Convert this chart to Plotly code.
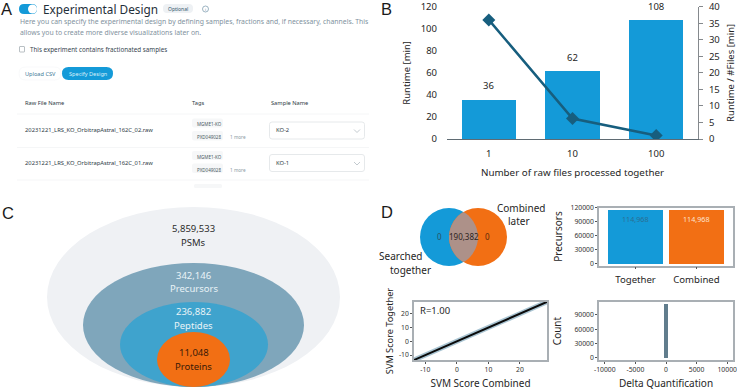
import plotly.graph_objects as go

W, H = 737, 390
FONT = "Noto Sans"
BLUE = "#149ad8"
ORANGE = "#f26f14"
TEAL = "#175e7e"
SPINE = "#a9afb4"
INK = "#262626"

# Panel B
files = ["1", "10", "100"]
runtime = [36, 62, 108]
runtime_per_file = [36, 6.2, 1.08]
# Panel D, bars
methods = ["Together", "Combined"]
precursors = [114968, 114968]
precursor_labels = ["114,968", "114,968"]
# Panel D, scatter
svm_combined = [-13.6, -10, -5, 0, 5, 10, 15, 20, 25, 28.6]
svm_together = [-13.6, -10, -5, 0, 5, 10, 15, 20, 25, 28.6]
svm_ticks = [-10, 0, 10, 20]
# Panel D, histogram
delta_bin = [0]
delta_count = [113000]
delta_ticks = [-10000, -5000, 0, 5000, 10000]
# Panel C
nested_counts = ["5,859,533", "342,146", "236,882", "11,048"]
nested_names = ["PSMs", "Precursors", "Peptides", "Proteins"]
# Panel A
raw_files = ["20231221_LRS_KO_OrbitrapAstral_162C_02.raw", "20231221_LRS_KO_OrbitrapAstral_162C_01.raw"]
sample_names = ["KO-2", "KO-1"]


def px(x):
    return x / W


def py(y):
    return 1 - y / H


annotations, shapes = [], []


def text(x, y, s, size=8, color=INK, anchor="left", family=FONT):
    annotations.append(dict(x=px(x), y=py(y), xref="paper", yref="paper", text=s, showarrow=False,
                            xanchor=anchor, yanchor="middle", align="center",
                            font=dict(family=family, size=size, color=color)))


def ellipse(x0, y0, x1, y1, fill, line=None, lw=0):
    shapes.append(dict(type="circle", xref="paper", yref="paper", x0=px(x0), x1=px(x1), y0=py(y1), y1=py(y0),
                       fillcolor=fill, line=dict(width=lw, color=line or fill)))


def rrect(x0, y0, x1, y1, r, fill, line=None, lw=0):
    X0, X1, Y0, Y1 = px(x0), px(x1), py(y0), py(y1)
    rx, ry = r / W, r / H
    path = (f"M {X0+rx} {Y0} L {X1-rx} {Y0} Q {X1} {Y0} {X1} {Y0-ry} L {X1} {Y1+ry} Q {X1} {Y1} {X1-rx} {Y1} "
            f"L {X0+rx} {Y1} Q {X0} {Y1} {X0} {Y1+ry} L {X0} {Y0-ry} Q {X0} {Y0} {X0+rx} {Y0} Z")
    shapes.append(dict(type="path", xref="paper", yref="paper", path=path, fillcolor=fill,
                       line=dict(width=lw, color=line or fill)))


def hline(x0, x1, y, color, width=1):
    shapes.append(dict(type="line", xref="paper", yref="paper", x0=px(x0), x1=px(x1), y0=py(y), y1=py(y),
                       line=dict(width=width, color=color)))


def chevron(x, y):
    shapes.append(dict(type="path", xref="paper", yref="paper",
                       path=f"M {px(x-3)} {py(y-1.5)} L {px(x)} {py(y+1.5)} L {px(x+3)} {py(y-1.5)}",
                       line=dict(width=0.8, color="#b4bdc3")))


# ---------- panel letters
LETTER = "Liberation Sans"
text(-1, 9.3, "A", 16.5, "#1a1a1a", family=LETTER)
text(379, 9.3, "B", 16.5, "#1a1a1a", family=LETTER)
text(0, 213, "C", 16.5, "#1a1a1a", family=LETTER)
text(379, 212, "D", 16.5, "#1a1a1a", family=LETTER)

# ---------- panel A (UI screenshot)
rrect(19, 4, 37, 14, 5, BLUE)
ellipse(28, 4.5, 37, 13.5, "#ffffff")
text(41, 8.5, "Experimental Design", 11.8, "#1f2f3a")
rrect(163, 4, 193, 13, 4, "#eef1f4")
text(178, 8.5, "Optional", 5, "#31566b", "center")
ellipse(202.5, 6, 208.5, 12, "#ffffff", "#5a8198", 0.6)
text(205.5, 9, "i", 4, "#5a8198", "center")
text(18, 21.5, "Here you can specify the experimental design by defining samples, fractions and, if necessary, channels. This", 6.85, "#7f929e")
text(18, 32, "allows you to create more diverse visualizations later on.", 6.85, "#7f929e")
rrect(19.5, 46.5, 24.5, 52, 0.5, "#ffffff", "#8a959c", 0.6)
text(28, 49.5, "This experiment contains fractionated samples", 6.25, "#36454f")
rrect(19, 67, 61, 80, 6.5, "#ffffff", "#f0f3f5", 0.5)
text(40.5, 73.5, "Upload CSV", 5.6, "#417a98", "center")
rrect(62, 67, 113, 80, 6.5, BLUE)
text(87.5, 73.5, "Specify Design", 5.6, "#d8f0fa", "center")
text(23, 103, "Raw File Name", 5.7, "#2d3b45")
text(190, 103, "Tags", 5.7, "#2d3b45")
text(268.5, 103, "Sample Name", 5.7, "#2d3b45")
for i, (name, sample) in enumerate(zip(raw_files, sample_names)):
    yc = 130.5 + i * 32.5
    text(23, yc, name, 5.8, "#2d3b45")
    rrect(192, yc - 12, 223, yc - 3, 2, "#f6f7f8")
    text(195, yc - 6.5, "MGME1-KO", 4.5, "#4a5a64")
    rrect(192, yc + 0.5, 223, yc + 10, 2, "#f6f7f8")
    text(195, yc + 6.5, "PXD049028", 4.5, "#4a5a64")
    text(228, yc + 6.5, "1 more", 4.7, "#8c9aa3")
    rrect(269.5, yc - 8.5, 364.5, yc + 8.5, 2.5, "#ffffff", "#dfe3e6", 0.8)
    text(274, yc, sample, 5.8, "#2d3b45")
    chevron(357, yc + 0.5)
    hline(17, 369, yc + 17, "#f3f4f5", 0.8)
hline(17, 369, 114, "#f3f4f5", 0.8)
rrect(194, 184, 222, 188, 1.5, "#f6f7f8")

# ---------- panel C (nested ellipses)
ellipse(47, 207, 340, 387, "#eff1f4")
ellipse(83, 263, 304, 387, "#7fa6bb")
ellipse(120, 302, 268, 387, "#3fa3cd")
ellipse(157, 332, 230, 387, ORANGE)
for (yc, cnt, nm, col) in zip([228.5, 275, 311.5, 352.5], nested_counts, nested_names,
                              ["#2b2b2b", "#e9f3f7", "#e9f3f7", "#3a1a08"]):
    text(193.5, yc, cnt, 9.5, col, "center")
    text(193.5, yc + 13.5, nm, 9.5, col, "center")

# ---------- panel D venn
ellipse(420, 208, 478, 266, BLUE)
ellipse(449, 208, 507, 266, ORANGE)
shapes.append(dict(type="path", xref="paper", yref="paper", fillcolor="#ad9189", line=dict(width=0),
                   path=" ".join(
                       [f"M {px(463.5)} {py(211.9)}",
                        f"C {px(457)} {py(215)} {px(449)} {py(225)} {px(449)} {py(237)}",
                        f"C {px(449)} {py(249)} {px(457)} {py(259)} {px(463.5)} {py(262.1)}",
                        f"C {px(470)} {py(259)} {px(478)} {py(249)} {px(478)} {py(237)}",
                        f"C {px(478)} {py(225)} {px(470)} {py(215)} {px(463.5)} {py(211.9)} Z"])))
text(440, 237, "0", 8, "#28536a", "center")
text(463.5, 237, "190,382", 8, "#2e2422", "center")
text(487.5, 237, "0", 8, "#5a2a0c", "center")
text(547, 207.5, "Combined", 10, INK, "right")
text(532, 221, "later", 10, INK, "right")
text(377, 256, "Searched", 10, INK)
text(433, 269.5, "together", 10, INK, "right")

# ---------- traces
fig = go.Figure()
fig.add_bar(x=files, y=runtime, marker=dict(color=BLUE, line=dict(width=0)), width=0.65, xaxis="x", yaxis="y")
fig.add_scatter(x=files, y=runtime_per_file, mode="lines+markers", xaxis="x", yaxis="y2",
                line=dict(color=TEAL, width=2.5), marker=dict(symbol="diamond", size=10, color=TEAL))
for i, v in enumerate(runtime):
    annotations.append(dict(x=i, y=v, xref="x", yref="y", text=str(v), showarrow=False, yshift=5, yanchor="bottom",
                            font=dict(family=FONT, size=9.5, color=INK)))

fig.add_bar(x=methods, y=precursors, marker=dict(color=[BLUE, ORANGE], line=dict(width=0)), width=0.9,
            xaxis="x3", yaxis="y3")
for i, (v, lab, col) in enumerate(zip(precursors, precursor_labels, ["#2a6f92", "#fde3cf"])):
    annotations.append(dict(x=i, y=v, xref="x3", yref="y3", text=lab, showarrow=False, yanchor="top", yshift=-2,
                            font=dict(family=FONT, size=7.2, color=col)))

fig.add_scatter(x=svm_combined, y=svm_together, mode="lines", xaxis="x4", yaxis="y4",
                line=dict(color="#a9c4d2", width=5))
fig.add_scatter(x=svm_combined, y=svm_together, mode="lines", xaxis="x4", yaxis="y4",
                line=dict(color="#0b0b0b", width=2))
text(418, 310, "R=1.00", 9.5, INK)

fig.add_bar(x=delta_bin, y=delta_count, width=720, marker=dict(color="#617d8d", line=dict(width=0)),
            xaxis="x5", yaxis="y5")

tick = dict(family=FONT, size=9.5, color=INK)
mid = dict(family=FONT, size=6.8, color="#333333")


def ttl(s, standoff, size=10):
    return dict(text=s, font=dict(family=FONT, size=size, color=INK), standoff=standoff)


def box(**kw):
    d = dict(showline=True, mirror=True, linecolor=SPINE, linewidth=1.5, showgrid=False, zeroline=False,
             ticks="outside", ticklen=2, tickcolor="#555555", tickwidth=0.8, tickfont=mid, automargin=False,
             ticklabeloverflow="allow")
    d.update(kw)
    return d


fig.update_layout(
    width=W, height=H, margin=dict(l=0, r=0, t=0, b=0, autoexpand=False), autosize=False,
    paper_bgcolor="#ffffff", plot_bgcolor="rgba(0,0,0,0)", showlegend=False, bargap=0,
    font=dict(family=FONT, color=INK),
    annotations=annotations, shapes=shapes,
    xaxis=dict(domain=[px(447), px(698)], anchor="y", type="category", range=[-0.5, 2.5], showgrid=False, showline=True,
               linecolor="#5f6b73", linewidth=1, ticks="", tickfont=tick, zeroline=False, ticklabelstandoff=6,
               title=ttl("Number of raw files processed together", 9, 9.8)),
    yaxis=dict(domain=[py(139), py(6.7)], anchor="x", range=[0, 120], dtick=20, showgrid=False, showline=False,
               zeroline=False, ticks="", tickfont=tick, ticklabelstandoff=9, title=ttl("Runtime [min]", 8, 9.5)),
    yaxis2=dict(domain=[py(139), py(6.7)], anchor="x", overlaying="y", side="right", range=[0, 40], dtick=5,
                showgrid=False, showline=True, linecolor="#85898d", linewidth=1, ticks="outside", ticklen=4,
                tickcolor="#85898d", zeroline=False, tickfont=tick, ticklabelstandoff=4,
                title=ttl("Runtime / #Files [min]", 8, 9.5)),
    xaxis3=box(domain=[px(599), px(733)], anchor="y3", type="category", range=[-0.6, 1.6],
               tickfont=dict(family=FONT, size=9.6, color=INK), ticklabelstandoff=2),
    yaxis3=box(domain=[py(265.5), py(207.5)], anchor="x3", range=[-4200, 120000], tickvals=[0, 30000, 60000, 90000, 120000],
               tickformat="d", title=ttl("Precursors", 6)),
    xaxis4=box(domain=[px(414), px(547)], anchor="y4", range=[-13.6, 28.6], tickvals=svm_ticks,
               ticktext=[str(t) for t in svm_ticks], title=ttl("SVM Score Combined", 9)),
    yaxis4=box(domain=[py(360), py(302)], anchor="x4", range=[-13.6, 28.5], tickvals=svm_ticks,
               ticktext=[str(t) for t in svm_ticks], title=ttl("SVM Score Together", 4, 9.2)),
    xaxis5=box(domain=[px(599), px(733)], anchor="y5", range=[-10950, 10950],
               tickvals=delta_ticks, ticktext=[str(t) for t in delta_ticks], title=ttl("Delta Quantification", 9)),
    yaxis5=box(domain=[py(360), py(302)], anchor="x5", range=[-4200, 117000], tickvals=[0, 30000, 60000, 90000],
               tickformat="d", title=ttl("Count", 11)),
)

fig.write_html("out.html", config={"displayModeBar": False}, post_script="document.body.style.margin='0';")
